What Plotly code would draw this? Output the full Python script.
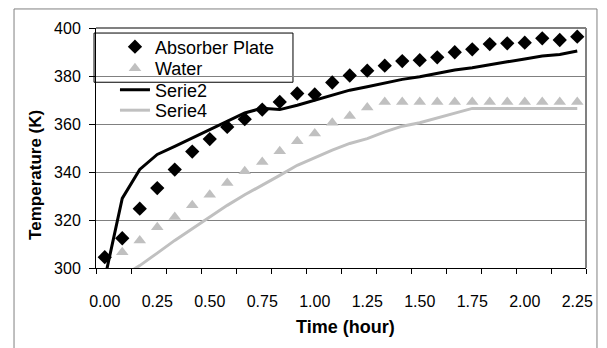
import plotly.graph_objects as go

time_min = [0, 5, 10, 15, 20, 25, 30, 35, 40, 45, 50, 55, 60, 65,
            70, 75, 80, 85, 90, 95, 100, 105, 110, 115, 120, 125, 130, 135]

absorber_plate = [304.5, 312.4, 324.7, 333.3, 341.0, 348.5, 353.7, 358.8, 362.0, 366.0,
                  369.2, 372.7, 372.3, 377.3, 380.2, 382.2, 384.3, 386.2, 386.6, 387.8,
                  389.9, 391.1, 393.3, 393.6, 393.9, 395.7, 395.0, 396.4]

water = [None, 306.6, 311.5, 317.0, 321.2, 326.1, 330.5, 335.4, 340.3, 344.2,
         348.6, 352.8, 356.0, 360.5, 363.3, 366.9, 369.2, 369.2, 369.2, 369.2,
         369.2, 369.2, 369.2, 369.2, 369.2, 369.2, 369.2, 369.2]

serie2 = [295.5, 329.0, 341.1, 347.3, 350.7, 354.2, 357.4, 360.9, 364.6, 366.6,
          366.0, 367.8, 369.9, 372.3, 374.1, 375.5, 377.2, 378.6, 379.7, 381.1,
          382.5, 383.4, 384.8, 385.9, 387.1, 388.3, 389.0, 390.4]

serie4 = [None, 296.5, 301.0, 306.2, 311.5, 316.4, 321.2, 326.1, 330.5, 334.4,
          338.6, 342.8, 346.0, 349.1, 351.9, 353.9, 356.7, 359.1, 360.5, 362.5,
          364.6, 366.5, 366.5, 366.5, 366.5, 366.5, 366.5, 366.5]

x_tick_labels = ["0.00", "0.25", "0.50", "0.75", "1.00", "1.25", "1.50", "1.75", "2.00", "2.25"]
x_tick_hours = [0.0, 0.25, 0.5, 0.75, 1.0, 1.25, 1.5, 1.75, 2.0, 2.25]

hours = [m / 60 for m in time_min]
FONT = "Liberation Sans, Arial, sans-serif"
GRAY = "#C0C0C0"
LEG_FONT = dict(family=FONT, size=18, color="black")

fig = go.Figure()
fig.add_trace(go.Scatter(x=hours, y=absorber_plate, mode="markers", name="Absorber Plate",
                         marker=dict(symbol="diamond", size=11, color="black"),
                         cliponaxis=False, legend="legend"))
fig.add_trace(go.Scatter(x=hours, y=water, mode="markers", name="Water",
                         marker=dict(symbol="triangle-up", size=11, color=GRAY),
                         cliponaxis=False, legend="legend2"))
fig.add_trace(go.Scatter(x=hours, y=serie2, mode="lines", name="Serie2",
                         line=dict(color="black", width=3), legend="legend3"))
fig.add_trace(go.Scatter(x=hours, y=serie4, mode="lines", name="Serie4",
                         line=dict(color=GRAY, width=3), legend="legend4"))


def leg(yc):
    return dict(x=0.0387, y=yc, xanchor="left", yanchor="middle",
                bgcolor="rgba(0,0,0,0)", borderwidth=0, font=LEG_FONT)


half = 2.5 / 60
fig.update_layout(
    width=599, height=340,
    margin=dict(l=88, r=21, t=20, b=80),
    paper_bgcolor="white", plot_bgcolor="white",
    font=dict(family=FONT, size=16, color="black"),
    showlegend=True,
    legend=leg(0.9208), legend2=leg(0.8313), legend3=leg(0.7417), legend4=leg(0.6563),
    xaxis=dict(range=[-half, 2.25 + half], tickmode="array", tickvals=x_tick_hours,
               ticktext=x_tick_labels, ticks="", showgrid=False, zeroline=False,
               showline=True, linecolor="black", linewidth=1,
               ticklabelstandoff=19,
               tickfont=dict(family=FONT, size=16),
               minor=dict(tickmode="linear", tick0=-half, dtick=4 * half,
                          ticks="outside", ticklen=5, tickcolor="black", tickwidth=1,
                          showgrid=False)),
    yaxis=dict(range=[300, 400], dtick=20, tick0=300, ticks="outside", ticklen=6,
               tickcolor="black", showgrid=True, gridcolor="#808080", gridwidth=1,
               zeroline=False, showline=True, linecolor="black", linewidth=1,
               ticklabelstandoff=5,
               tickfont=dict(family=FONT, size=16)),
    shapes=[
        dict(type="line", xref="paper", yref="paper", x0=0, x1=1, y0=1, y1=1,
             line=dict(color="#808080", width=2), layer="above"),
        dict(type="line", xref="paper", yref="paper", x0=1, x1=1, y0=0, y1=1,
             line=dict(color="#808080", width=2), layer="above"),
        dict(type="rect", xref="paper", yref="paper", x0=-0.004, x1=0.402, y0=0.774, y1=0.979,
             line=dict(color="black", width=1), fillcolor="white", layer="between"),
        dict(type="rect", xref="paper", yref="paper", x0=-0.1673, x1=1.0224, y0=-0.5, y1=1.0793,
             line=dict(color="#808080", width=1), fillcolor="rgba(0,0,0,0)", layer="above"),
    ],
    annotations=[
        dict(text="<b>Temperature (K)</b>", xref="paper", yref="paper", x=-0.124, y=0.389,
             textangle=-90, showarrow=False, font=dict(family=FONT, size=17),
             xanchor="center", yanchor="middle"),
        dict(text="<b>Time (hour)</b>", xref="paper", yref="paper", x=0.51, y=-0.247,
             showarrow=False, font=dict(family=FONT, size=18),
             xanchor="center", yanchor="middle"),
    ],
)

fig.write_html("out.html")
